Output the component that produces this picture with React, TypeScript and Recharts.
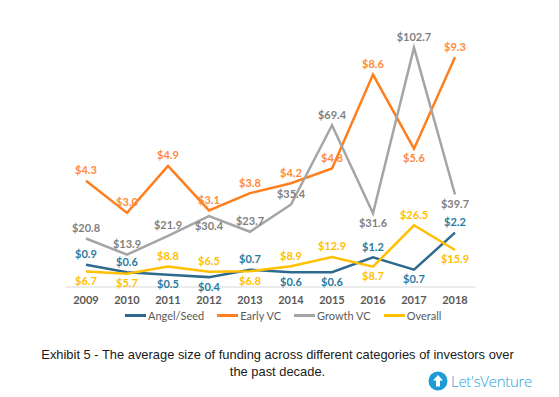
import React from 'react';
import { LineChart, Line, XAxis, YAxis, Legend, LabelList } from 'recharts';

const years = ['2009', '2010', '2011', '2012', '2013', '2014', '2015', '2016', '2017', '2018'];
const angelSeed = [0.9, 0.6, 0.5, 0.4, 0.7, 0.6, 0.6, 1.2, 0.7, 2.2];
const earlyVC = [4.3, 3.0, 4.9, 3.1, 3.8, 4.2, 4.8, 8.6, 5.6, 9.3];
const growthVC = [20.8, 13.9, 21.9, 30.4, 23.7, 35.4, 69.4, 31.6, 102.7, 39.7];
const overall = [6.7, 5.7, 8.8, 6.5, 6.8, 8.9, 12.9, 8.7, 26.5, 15.9];

// label placement per point
const angelPlace = ['above', 'above', 'below', 'below', 'above', 'below', 'below', 'above', 'below', 'above'];
const earlyPlace = ['above', 'above', 'above', 'above', 'above', 'above', 'above', 'above', 'below', 'above'];
const growthPlace = ['above', 'above', 'above', 'below', 'above', 'above', 'above', 'below', 'above', 'below'];
const overallPlace = ['below', 'below', 'above', 'above', 'below', 'above', 'above', 'below', 'above', 'below'];

const seriesNames = ['Angel/Seed', 'Early VC', 'Growth VC', 'Overall'];
const lineColors = ['#2E6A8F', '#FF7F1E', '#A5A5A5', '#FFC000'];
const labelColors = ['#2B7A9E', '#FF8A3A', '#7F7F7F', '#FFC000'];

const data = years.map((y, i) => ({
  year: y,
  angel: angelSeed[i],
  early: earlyVC[i],
  growth: growthVC[i],
  overall: overall[i],
}));

const FONT = 'Lato, "Open Sans", sans-serif';

const makeLabel = (color: string, places: string[]) => (props: any) => {
  const { x, y, value, index } = props;
  if (x == null || y == null) return null;
  const dy = places[index] === 'below' ? 9 : -11;
  return (
    <text
      x={x}
      y={y + dy}
      fill={color}
      fontSize={11}
      fontWeight={700}
      fontFamily={FONT}
      textAnchor="middle"
      dominantBaseline="central"
    >
      {`$${Number(value).toFixed(1)}`}
    </text>
  );
};

const LegendContent = () => (
  <div style={{ display: 'flex', alignItems: 'center', height: 16, fontFamily: FONT, fontSize: 11, color: '#595959', whiteSpace: 'nowrap' }}>
    {seriesNames.map((n, i) => (
      <div key={n} style={{ display: 'flex', alignItems: 'center', marginRight: 13, flexShrink: 0 }}>
        <div style={{ width: 21, height: 3, background: lineColors[i], marginRight: 2 }} />
        <span>{n}</span>
      </div>
    ))}
  </div>
);

export default function App() {
  return (
    <div style={{ position: 'absolute', left: 0, top: 0, width: 559, height: 397, background: '#fff' }}>
      <LineChart width={559} height={330} data={data} margin={{ top: 40, right: 83.5, left: 65.5, bottom: 7 }}>
        <XAxis
          dataKey="year"
          padding={{ left: 20.5, right: 20.5 }}
          axisLine={{ stroke: '#D9D9D9', strokeWidth: 1 }}
          tickLine={false}
          tickSize={0}
          tickMargin={9}
          height={20}
          tick={{ fill: '#595959', fontSize: 11, fontWeight: 700, fontFamily: FONT }}
        />
        <YAxis yAxisId="left" hide domain={[0, 106]} />
        <YAxis yAxisId="right" hide orientation="right" domain={[0, 10]} />
        <Legend
          verticalAlign="bottom"
          content={<LegendContent />}
          wrapperStyle={{ left: 125, width: 360 }}
        />
        <Line yAxisId="right" dataKey="angel" name={seriesNames[0]} stroke={lineColors[0]} strokeWidth={2.5} dot={false} isAnimationActive={false}>
          <LabelList dataKey="angel" content={makeLabel(labelColors[0], angelPlace)} />
        </Line>
        <Line yAxisId="right" dataKey="early" name={seriesNames[1]} stroke={lineColors[1]} strokeWidth={2.5} dot={false} isAnimationActive={false}>
          <LabelList dataKey="early" content={makeLabel(labelColors[1], earlyPlace)} />
        </Line>
        <Line yAxisId="left" dataKey="growth" name={seriesNames[2]} stroke={lineColors[2]} strokeWidth={2.5} dot={false} isAnimationActive={false}>
          <LabelList dataKey="growth" content={makeLabel(labelColors[2], growthPlace)} />
        </Line>
        <Line yAxisId="left" dataKey="overall" name={seriesNames[3]} stroke={lineColors[3]} strokeWidth={2.5} dot={false} isAnimationActive={false}>
          <LabelList dataKey="overall" content={makeLabel(labelColors[3], overallPlace)} />
        </Line>
      </LineChart>
      <div
        style={{
          position: 'absolute',
          left: 0,
          top: 346,
          width: 555,
          textAlign: 'center',
          fontFamily: '"Liberation Sans", Arial, sans-serif',
          fontSize: 12.9,
          lineHeight: '17px',
          color: '#1a1a1a',
          whiteSpace: 'nowrap',
        }}
      >
        Exhibit 5 - The average size of funding across different categories of investors over
        <br />
        the past decade.
      </div>
      <svg style={{ position: 'absolute', left: 426, top: 369 }} width={130} height={26}>
        <circle cx={12} cy={12} r={9.5} fill="#1E9BD7" />
        <path d="M12 6 L17 11.5 L14 11.5 L14 17.5 L10 17.5 L10 11.5 L7 11.5 Z" fill="#fff" />
        <text x={25} y={18} fill="#2AA3DC" fontSize={15} fontFamily='"Open Sans", sans-serif' fontWeight={300} letterSpacing={-0.3}>
          Let's
          <tspan>Venture</tspan>
        </text>
      </svg>
    </div>
  );
}
